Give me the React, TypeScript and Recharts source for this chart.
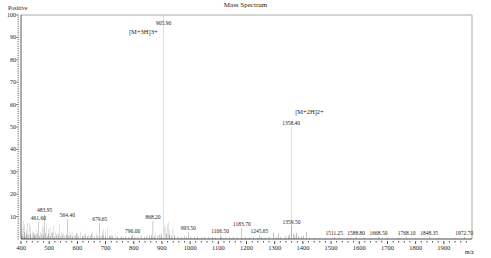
import { BarChart, Bar, XAxis, YAxis, Cell, LabelList, ReferenceLine } from "recharts"

// labelled peaks: m/z and relative intensity (%)
const peakMz = [461.6, 483.95, 564.4, 679.65, 796.0, 868.2, 905.9, 993.5, 1106.5, 1183.7, 1245.65, 1358.4, 1359.5, 1511.25, 1588.8, 1668.5, 1768.1, 1848.35, 1972.7]
const peakIntensity = [7.5, 11, 9, 7, 2, 8, 100, 3, 2, 5, 2, 50, 6, 1, 1, 1, 1, 1, 1]

// ion assignments for the two big peaks
const ionLabels: Record<string, string> = {
  "905.90": "[M+3H]3+",
  "1358.40": "[M+2H]2+",
}

// unlabelled grey lines (m/z, intensity)
const greyNoise: [number, number][] = [
  [404, 5], [409, 8], [413, 6.5], [419, 4], [424, 7.5], [429, 7], [435, 5.5], [441, 3.5],
  [447, 2.5], [456, 4], [469, 3], [475, 6], [481, 5], [491, 6.5], [497, 4.5], [503, 5.2],
  [509, 3], [514, 5.8], [521, 3.2], [528, 2.4], [537, 6.5], [544, 3], [551, 2.6], [573, 3],
  [581, 3.5], [588, 2.2], [600, 2.4], [611, 3.4], [626, 2.2], [641, 1.8], [655, 3.2], [667, 2.5],
  [688, 3.2], [694, 4.5], [701, 3.5], [707, 5], [721, 2], [736, 1.6], [878, 2.5], [897, 3],
  [909, 6], [913, 5], [919, 6.5], [922, 7.5], [926, 4], [939, 5], [946, 2.5],
]

// baseline noise, black
const blackNoise: [number, number][] = [
  [402, 2], [407, 1.5], [412, 3], [416, 1.2], [421, 2.5], [427, 1.8], [433, 2.2], [439, 1],
  [444, 2.8], [448, 1.4], [453, 1.9], [458, 2.4], [466, 1.3], [472, 2.1], [479, 1.6], [487, 2.6],
  [493, 1.2], [499, 2.2], [505, 1.5], [511, 2.9], [518, 1.1], [526, 1.7], [533, 2.3], [541, 1.2],
  [548, 1.8], [556, 1.4], [561, 2.1], [569, 1.3], [576, 1.9], [584, 1.1], [592, 1.6], [597, 2.4],
  [605, 1.2], [617, 1.5], [622, 1.1], [630, 1.9], [636, 1.2], [645, 1.4], [651, 2.2], [660, 1.1],
  [673, 1.6], [684, 1.3], [691, 1.8], [699, 1.2], [713, 1.5], [718, 1.1], [726, 1.3], [741, 1.0],
  [755, 1.2], [762, 0.8], [770, 1.1], [783, 0.9], [791, 1.3], [803, 1.0], [815, 0.8], [826, 1.2],
  [838, 0.9], [847, 1.1], [856, 1.4], [862, 1.8], [874, 1.2], [886, 1.6], [893, 2], [899, 1.5],
  [915, 2.5], [927, 2], [935, 1.6], [946, 1.3], [957, 1.1], [968, 0.9], [979, 1.2], [988, 0.8],
  [1003, 1.0], [1015, 0.8], [1027, 1.1], [1040, 0.7], [1052, 0.9], [1066, 0.8], [1078, 1.0], [1090, 0.7],
  [1112, 0.9], [1125, 0.7], [1140, 0.8], [1155, 0.9], [1168, 0.7], [1195, 0.9], [1210, 0.8], [1225, 1.0],
  [1238, 0.7], [1252, 0.9], [1266, 0.8], [1280, 1.1], [1296, 2.8], [1305, 1], [1314, 2.6], [1322, 0.8],
  [1340, 1.2], [1348, 1.5], [1352, 2], [1366, 2.4], [1372, 1.8], [1378, 2.8], [1386, 1.5], [1395, 1.2],
  [1402, 1.6], [1412, 3], [1425, 0.8], [1440, 0.6], [1460, 0.5], [1480, 0.6], [1530, 0.5], [1560, 0.4],
  [1620, 0.5], [1700, 0.4], [1740, 0.5], [1800, 0.4], [1880, 0.4], [1940, 0.4],
]

const xMajorTicks = [400, 500, 600, 700, 800, 900, 1000, 1100, 1200, 1300, 1400, 1500, 1600, 1700, 1800, 1900]
const yMajorTicks = [10, 20, 30, 40, 50, 60, 70, 80, 90, 100]

const xTicks: number[] = []
for (let v = 400; v < 2000; v += 20) xTicks.push(v)
const yTicks: number[] = []
for (let v = 0; v <= 100; v += 1) yTicks.push(v)

type Row = { mz: number; i: number; tone: string; label?: string }

const data: Row[] = [
  ...greyNoise.map(([mz, i]) => ({ mz, i, tone: "#8c8c8c" })),
  ...blackNoise.map(([mz, i]) => ({ mz, i, tone: "#111" })),
  ...peakMz.map((mz, k) => ({
    mz,
    i: peakIntensity[k],
    tone: peakIntensity[k] >= 40 ? "#808080" : "#3a3a3a",
    label: mz.toFixed(2),
  })),
]

const font = "'Liberation Serif', 'DejaVu Serif', serif"
const ink = "#1e1e1e"

function XTick(props: any) {
  const { x, y, payload } = props
  const major = xMajorTicks.includes(payload.value)
  return (
    <g>
      <line x1={x} x2={x} y1={y} y2={y + (major ? 3 : 1.5)} stroke={ink} strokeWidth={0.8} />
      {major && (
        <text x={x} y={y + 8.5} textAnchor="middle" fontSize={6.5} fontFamily={font} fill={ink}>
          {payload.value}
        </text>
      )}
    </g>
  )
}

function YTick(props: any) {
  const { x, y, payload } = props
  const major = yMajorTicks.includes(payload.value)
  return (
    <g>
      <line x1={x} x2={x - (major ? 3 : 1.5)} y1={y} y2={y} stroke="#333" strokeWidth={0.6} />
      {major && (
        <text x={x - 3} y={y + 2} textAnchor="end" fontSize={6} fontFamily={font} fill={ink}>
          {payload.value}
        </text>
      )}
    </g>
  )
}

function PeakLabel(props: any) {
  const { x, y, width, value } = props
  if (!value) return null
  const cx = x + width / 2
  const ion = ionLabels[value]
  // base peak touches the frame, so its label sits inside
  const ty = y < 20 ? y + 10 : y - 2
  return (
    <g>
      <text x={cx} y={ty} textAnchor="middle" fontSize={5.5} fontFamily={font} fill={ink}>
        {value}
      </text>
      {ion && y < 20 && (
        <text x={cx - 6} y={y + 19} textAnchor="end" fontSize={6.5} fontFamily={font} fill={ink}>
          {ion}
        </text>
      )}
      {ion && y >= 20 && (
        <text x={cx + 4} y={y - 13} textAnchor="start" fontSize={6.5} fontFamily={font} fill={ink}>
          {ion}
        </text>
      )}
    </g>
  )
}

export default function App() {
  return (
    <div style={{ position: "absolute", left: 0, top: 0, width: 491, height: 258, background: "#fff" }}>
      <div style={{ position: "absolute", left: 0, top: 1, width: 491, textAlign: "center", fontFamily: font, fontSize: 7, color: ink }}>
        Mass Spectrum
      </div>
      <div style={{ position: "absolute", left: 8, top: 5, fontFamily: font, fontSize: 6, color: ink }}>Positive</div>
      <div style={{ position: "absolute", left: 465, top: 249, fontFamily: font, fontSize: 6, color: ink }}>m/z</div>
      <BarChart width={491} height={258} data={data} margin={{ top: 15, right: 19, bottom: 0, left: 0 }}>
        <XAxis
          dataKey="mz"
          type="number"
          domain={[400, 2000]}
          ticks={xTicks}
          interval={0}
          tick={<XTick />}
          tickLine={false}
          tickSize={0}
          axisLine={{ stroke: ink, strokeWidth: 0.8 }}
          height={19}
          allowDataOverflow
        />
        <YAxis
          type="number"
          domain={[0, 100]}
          ticks={yTicks}
          interval={0}
          tick={<YTick />}
          tickLine={false}
          tickSize={0}
          axisLine={{ stroke: "#333", strokeWidth: 0.8 }}
          width={21}
        />
        <ReferenceLine y={100} stroke="#aaa" strokeWidth={1} />
        <ReferenceLine x={2000} stroke="#aaa" strokeWidth={1} />
        <Bar dataKey="i" barSize={1} isAnimationActive={false}>
          {data.map((d, k) => (
            <Cell key={`c-${k}`} fill={d.tone} />
          ))}
          <LabelList dataKey="label" content={<PeakLabel />} />
        </Bar>
      </BarChart>
    </div>
  )
}
